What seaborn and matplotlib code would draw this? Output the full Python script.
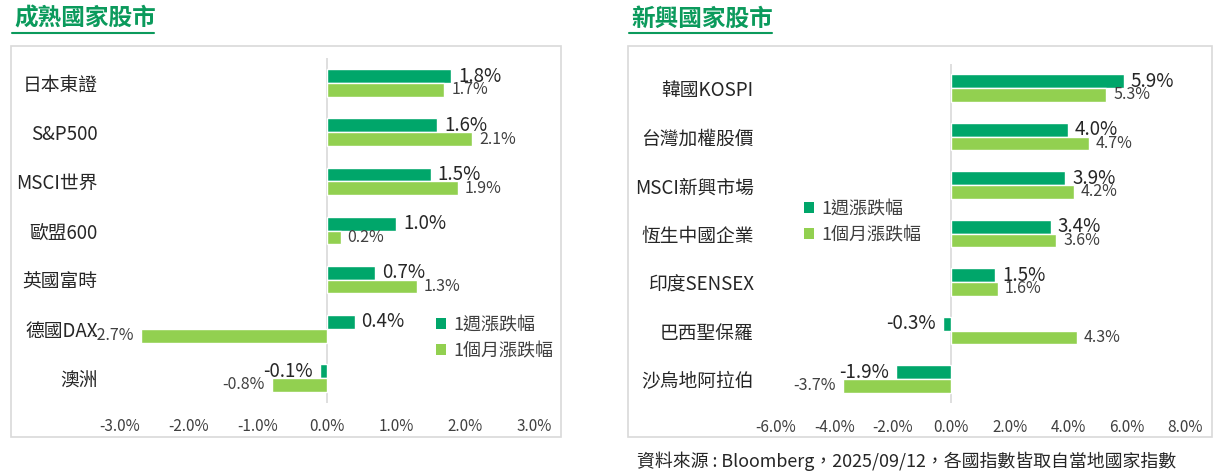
import matplotlib
matplotlib.use("Agg")
import matplotlib.pyplot as plt
import seaborn as sns
import pandas as pd
from matplotlib.patches import Patch, Rectangle
from matplotlib.lines import Line2D

# ---------------- data ----------------
dev_categories = ["日本東證", "S&P500", "MSCI世界", "歐盟600", "英國富時", "德國DAX", "澳洲"]
dev_week = [1.8, 1.6, 1.5, 1.0, 0.7, 0.4, -0.1]
dev_month = [1.7, 2.1, 1.9, 0.2, 1.3, -2.7, -0.8]

em_categories = ["韓國KOSPI", "台灣加權股價", "MSCI新興市場", "恆生中國企業", "印度SENSEX", "巴西聖保羅", "沙烏地阿拉伯"]
em_week = [5.9, 4.0, 3.9, 3.4, 1.5, -0.3, -1.9]
em_month = [5.3, 4.7, 4.2, 3.6, 1.6, 4.3, -3.7]

series_names = ["1週漲跌幅", "1個月漲跌幅"]
dev_ticks = [-3, -2, -1, 0, 1, 2, 3]
em_ticks = [-6, -4, -2, 0, 2, 4, 6, 8]

titles = ["成熟國家股市", "新興國家股市"]
source_text = "資料來源 : Bloomberg，2025/09/12，各國指數皆取自當地國家指數"

# ---------------- style ----------------
sns.set_theme(style="white")
plt.rcParams["font.family"] = ["Noto Sans CJK TC", "DejaVu Sans"]

C_WEEK = "#00A66A"
C_MONTH = "#92D050"
C_TITLE = "#0B9A5C"
C_TEXT = "#262626"
C_TICK = "#404040"
C_BOX = "#D9D9D9"

W, H = 1215, 475
fig = plt.figure(figsize=(W / 100, H / 100), dpi=100)


def px_rect(x0, y0, x1, y1):
    """pixel box (top-left origin) -> figure fraction rect"""
    return [x0 / W, 1 - y1 / H, (x1 - x0) / W, (y1 - y0) / H]


def panel(rect, cats, wk, mo, ticks, legend_xy):
    df = pd.DataFrame({
        "cat": cats * 2,
        "series": [series_names[0]] * len(cats) + [series_names[1]] * len(cats),
        "val": list(wk) + list(mo),
    })
    ax = fig.add_axes(rect)
    sns.barplot(data=df, y="cat", x="val", hue="series", hue_order=series_names,
                order=cats, palette=[C_WEEK, C_MONTH], width=0.56, gap=0,
                saturation=1, orient="h", legend=False, ax=ax)
    ax.set_xlim(ticks[0], ticks[-1])
    ax.set_ylim(len(cats) - 0.5, -0.5)
    ax.set_xticks(ticks)
    ax.set_xticklabels([f"{t:.1f}%" for t in ticks], fontsize=11, color=C_TICK)
    ax.tick_params(axis="x", length=0, pad=11)
    ax.tick_params(axis="y", length=0, pad=16, labelsize=13.5, labelcolor=C_TEXT)
    ax.set_xlabel("")
    ax.set_ylabel("")
    for s in ax.spines.values():
        s.set_visible(False)
    ax.axvline(0, color=C_BOX, lw=1.2, zorder=0)
    ax.patch.set_alpha(0)

    ax.bar_label(ax.containers[0], labels=[f"{v:.1f}%" for v in wk],
                 padding=5, fontsize=13.5, fontweight="medium", color=C_TEXT)
    ax.bar_label(ax.containers[1], labels=[f"{v:.1f}%" for v in mo],
                 padding=5, fontsize=11.5, color=C_TICK)

    handles = [Patch(facecolor=C_WEEK, edgecolor="none"),
               Patch(facecolor=C_MONTH, edgecolor="none")]
    fig.legend(handles, series_names, loc="upper left",
               bbox_to_anchor=(legend_xy[0] / W, 1 - legend_xy[1] / H),
               frameon=False, fontsize=13, labelcolor=C_TICK,
               handlelength=0.55, handleheight=0.55, handletextpad=0.4,
               labelspacing=0.45, borderaxespad=0, borderpad=0)
    return ax


# panel boxes
for (x0, y0, x1, y1) in [(11, 46, 561, 437), (628, 46, 1212, 437)]:
    fig.patches.append(Rectangle((x0 / W, 1 - y1 / H), (x1 - x0) / W, (y1 - y0) / H,
                                 transform=fig.transFigure, fill=False,
                                 edgecolor=C_BOX, lw=1.2))

panel(px_rect(120, 58.4, 534, 402.6), dev_categories, dev_week, dev_month,
      dev_ticks, (436, 316))
panel(px_rect(776, 63.8, 1185, 403.3), em_categories, em_week, em_month,
      em_ticks, (804, 200))

# titles with underline
fig.text(14 / W, 1 - 19 / H, titles[0], fontsize=17, fontweight="bold",
         color=C_TITLE, va="center", ha="left")
fig.text(631 / W, 1 - 19 / H, titles[1], fontsize=17, fontweight="bold",
         color=C_TITLE, va="center", ha="left")
for x0, x1 in [(12, 154), (629, 772)]:
    fig.add_artist(Line2D([x0 / W, x1 / W], [1 - 33 / H, 1 - 33 / H],
                          transform=fig.transFigure, color=C_TITLE, lw=1.5))

fig.text(637 / W, 1 - 461 / H, source_text, fontsize=12.9, color=C_TEXT,
         va="center", ha="left")

fig.savefig("out.png", dpi=100, facecolor="white")
